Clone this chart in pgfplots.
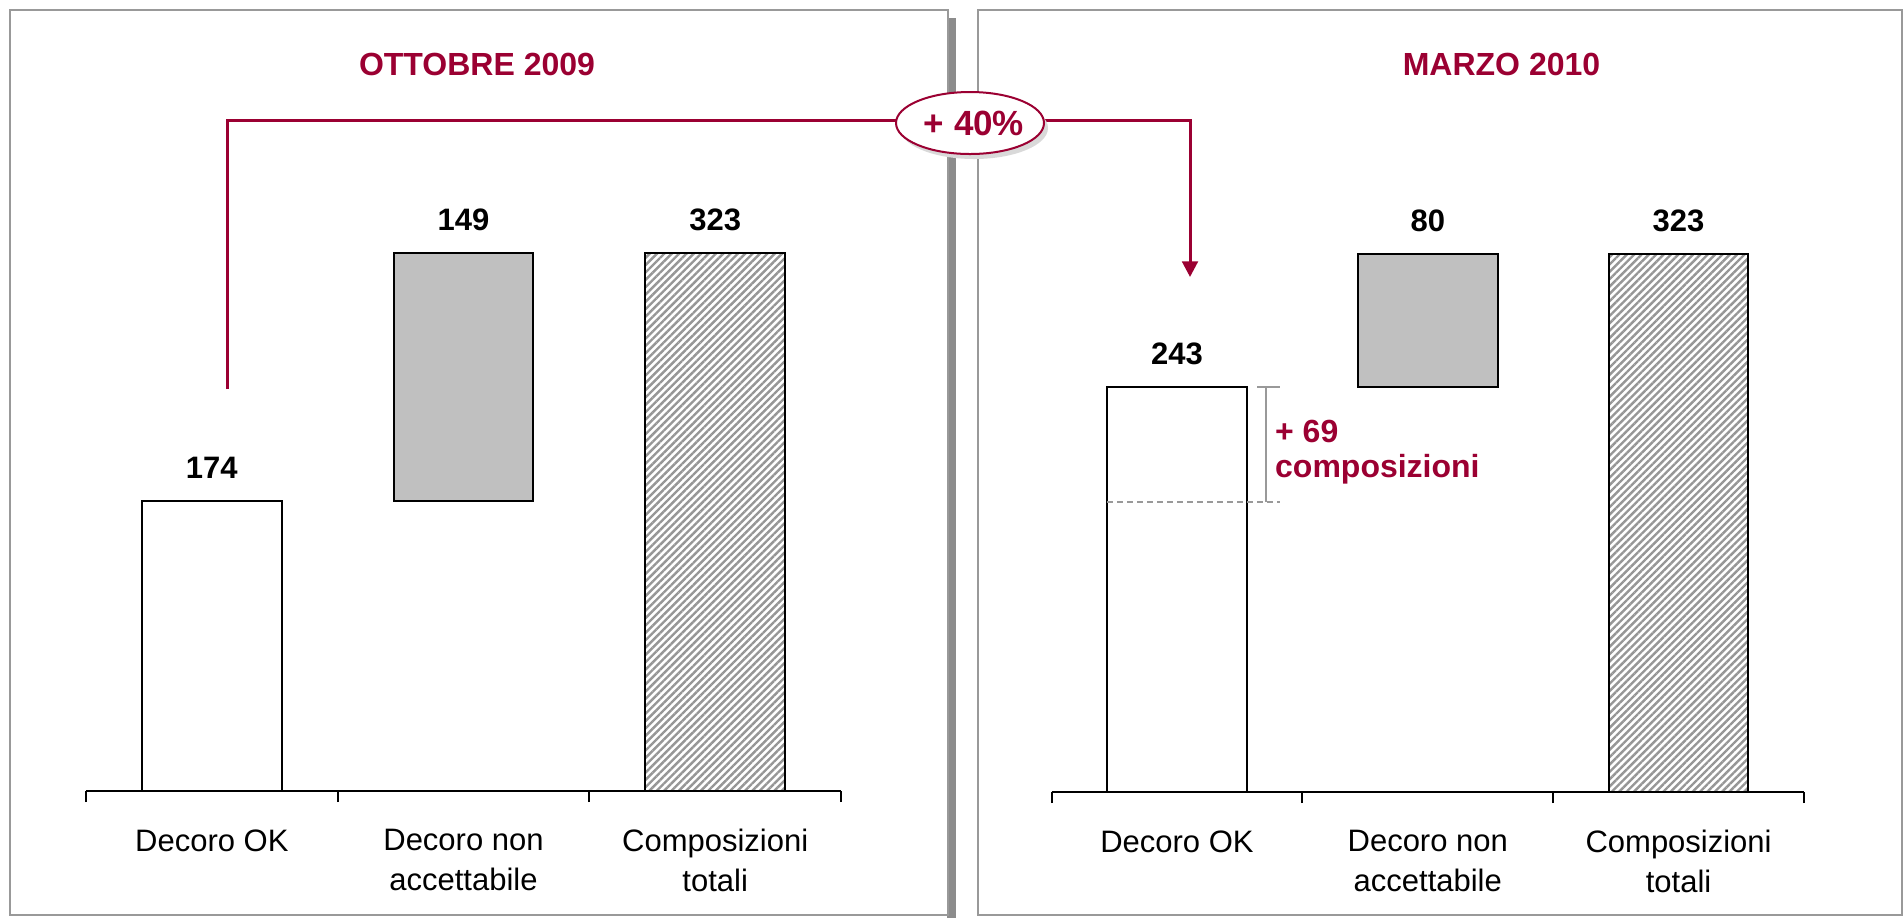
\documentclass[border=0pt]{standalone}
\usepackage{pgfplots}
\pgfplotsset{compat=1.18}
\usepackage{fontspec}
\setmainfont{Liberation Sans}
\usetikzlibrary{patterns.meta,arrows.meta}

\definecolor{bordo}{RGB}{155,0,50}
\definecolor{barGray}{RGB}{192,192,192}
\definecolor{frameGray}{RGB}{153,153,153}
\definecolor{shadowGray}{RGB}{140,140,140}
\definecolor{hatchGray}{RGB}{150,150,150}

\pgfplotsset{
  panel/.style={
    scale only axis, height=333.3pt,
    xmin=-0.5, xmax=2.5, ymin=0, ymax=400,
    axis x line*=bottom, axis y line=none, ytick=\empty,
    axis line style={black, line width=1pt},
    xtick={-0.5,0.5,1.5,2.5}, x tick label as interval,
    xticklabels={Decoro OK,{Decoro non\\accettabile},{Composizioni\\totali}},
    xticklabel style={align=center, font=\fontsize{15.5}{20}\selectfont,
      inner sep=0pt, anchor=north, yshift=-13.5pt},
    tick style={black, line width=1pt}, major tick length=5.5pt, tick align=outside,
    clip=false, anchor=south west,
  },
  bar/.style={ybar, bar width=69.75pt, bar shift=0pt, draw=black, line width=1pt},
  hatched/.style={pattern={Lines[angle=45,distance=2.6pt,line width=1.2pt]}, pattern color=hatchGray},
  labels/.style={draw=none, mark=none, nodes near coords, point meta=explicit symbolic,
    every node near coord/.append style={font=\fontsize{15.5}{18}\selectfont\bfseries,
      anchor=base, yshift=11.3pt, inner sep=0pt, text=black}},
}

\begin{document}
\begin{tikzpicture}
\useasboundingbox (0,0) rectangle (952pt,-459pt);

% panel frames
\begin{scope}[x=0.5pt,y=-0.5pt]
  \fill[shadowGray] (947,18) rectangle (956,918);
  \draw[frameGray, line width=1pt, fill=white] (10,10) rectangle (948,915);
  \draw[frameGray, line width=1pt] (978,10) rectangle (1902,915);
  \node[text=bordo, font=\fontsize{16}{18}\selectfont\bfseries] at (477,64.7) {OTTOBRE 2009};
  \node[text=bordo, font=\fontsize{16}{18}\selectfont\bfseries] at (1501.5,64.7) {MARZO 2010};
\end{scope}

% OTTOBRE 2009
\begin{axis}[panel, width=377.5pt, at={(43pt,-395.5pt)}]
  \addplot[bar, fill=white] coordinates {(0,174)};
  \addplot[fill=barGray, draw=black, line width=1pt, mark=none]
    coordinates {(0.722,174) (1.278,174) (1.278,323) (0.722,323)} -- cycle;
  \addplot[bar, hatched] coordinates {(2,323)};
  \addplot[labels] coordinates {(0,174)[174] (1,323)[149] (2,323)[323]};
\end{axis}

% MARZO 2010
\begin{axis}[panel, width=376.25pt, at={(525.75pt,-396pt)}]
  \addplot[bar, fill=white] coordinates {(0,243)};
  \addplot[fill=barGray, draw=black, line width=1pt, mark=none]
    coordinates {(0.722,243) (1.278,243) (1.278,323) (0.722,323)} -- cycle;
  \addplot[bar, hatched] coordinates {(2,323)};
  \addplot[labels] coordinates {(0,243)[243] (1,323)[80] (2,323)[323]};
  \draw[frameGray, line width=1pt, dash pattern=on 3pt off 2pt]
    (axis cs:-0.278,174) -- (axis cs:0.41,174);
  \draw[frameGray, line width=1pt] (axis cs:0.355,174) -- (axis cs:0.355,243);
  \draw[frameGray, line width=1pt] (axis cs:0.32,243) -- (axis cs:0.41,243);
  \node[anchor=west, align=left, text=bordo, inner sep=0pt,
    font=\fontsize{16}{17.5}\selectfont\bfseries] at (axis cs:0.39,204) {+ 69\\composizioni};
\end{axis}

% +40% connector
\begin{scope}[x=0.5pt,y=-0.5pt]
  \draw[bordo, line width=1.5pt] (227,389) -- (227,120.7) -- (1000,120.7);
  \draw[bordo, line width=1.5pt, -{Triangle[width=7.8pt,length=7.8pt]}]
    (960,120.7) -- (1190,120.7) -- (1190,277);
  \fill[gray!30] (974,128) ellipse [x radius=74, y radius=31];
  \draw[bordo, line width=1pt, fill=white] (970,123) ellipse [x radius=74, y radius=31];
  \node[text=bordo, font=\fontsize{17.5}{20}\selectfont\bfseries] at (974,123) {+ 40\%};
\end{scope}
\end{tikzpicture}
\end{document}
